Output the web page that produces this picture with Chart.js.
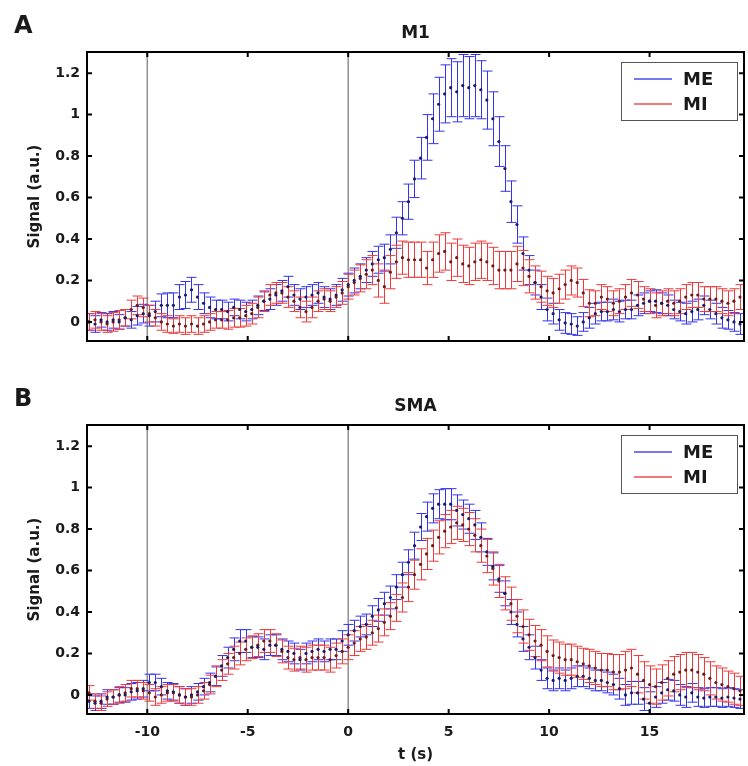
<!DOCTYPE html>
<html><head><meta charset="utf-8">
<script src="https://cdn.jsdelivr.net/npm/chart.js@4.4.1/dist/chart.umd.min.js"></script>
<style>html,body{margin:0;padding:0;background:#fff;}canvas{display:block;}</style>
</head><body>
<canvas id="cA" width="748" height="383"></canvas>
<canvas id="cB" width="748" height="383"></canvas>
<script>
// ---- data (time in s, signal in a.u.) ----
const time = [-12.9,-12.6,-12.3,-12.0,-11.7,-11.4,-11.1,-10.8,-10.5,-10.2,-9.9,-9.6,-9.3,-9.0,-8.7,-8.4,-8.1,-7.8,-7.5,-7.2,-6.9,-6.6,-6.3,-6.0,-5.7,-5.4,-5.1,-4.8,-4.5,-4.2,-3.9,-3.6,-3.3,-3.0,-2.7,-2.4,-2.1,-1.8,-1.5,-1.2,-0.9,-0.6,-0.3,0.0,0.3,0.6,0.9,1.2,1.5,1.8,2.1,2.4,2.7,3.0,3.3,3.6,3.9,4.2,4.5,4.8,5.1,5.4,5.7,6.0,6.3,6.6,6.9,7.2,7.5,7.8,8.1,8.4,8.7,9.0,9.3,9.6,9.9,10.2,10.5,10.8,11.1,11.4,11.7,12.0,12.3,12.6,12.9,13.2,13.5,13.8,14.1,14.4,14.7,15.0,15.3,15.6,15.9,16.2,16.5,16.8,17.1,17.4,17.7,18.0,18.3,18.6,18.9,19.2,19.5];

const m1ME = [0.0,-0.01,0.01,0.0,0.01,0.0,0.02,0.01,0.03,0.04,
  0.03,0.05,0.08,0.08,0.08,0.12,0.13,0.155,0.12,0.09,
  0.07,0.06,0.06,0.05,0.07,0.06,0.05,0.06,0.08,0.1,
  0.11,0.13,0.15,0.17,0.13,0.11,0.12,0.13,0.14,0.12,
  0.11,0.13,0.155,0.18,0.2,0.22,0.25,0.28,0.3,0.31,
  0.35,0.43,0.5,0.58,0.69,0.79,0.89,0.98,1.05,1.1,
  1.13,1.11,1.14,1.13,1.14,1.12,1.07,0.98,0.87,0.74,
  0.58,0.47,0.33,0.25,0.19,0.12,0.06,0.04,0.01,-0.005,
  -0.01,-0.02,0.0,0.02,0.04,0.05,0.05,0.06,0.05,0.06,
  0.06,0.08,0.09,0.1,0.1,0.09,0.08,0.06,0.05,0.04,
  0.05,0.06,0.08,0.06,0.04,0.02,0.01,0.0,-0.01];
const m1MEerr = [0.04,0.04,0.035,0.04,0.04,0.035,0.04,0.04,0.045,0.045,
  0.05,0.05,0.055,0.06,0.06,0.06,0.065,0.06,0.06,0.05,
  0.05,0.045,0.045,0.045,0.04,0.045,0.045,0.045,0.045,0.045,
  0.05,0.05,0.05,0.05,0.05,0.05,0.05,0.05,0.05,0.05,
  0.05,0.05,0.055,0.055,0.06,0.06,0.06,0.06,0.065,0.065,
  0.07,0.075,0.08,0.085,0.09,0.1,0.11,0.12,0.13,0.14,
  0.14,0.145,0.15,0.15,0.15,0.14,0.14,0.13,0.12,0.11,
  0.1,0.09,0.08,0.07,0.06,0.06,0.055,0.05,0.05,0.05,
  0.05,0.045,0.045,0.05,0.05,0.045,0.045,0.05,0.05,0.045,
  0.045,0.05,0.05,0.05,0.055,0.05,0.05,0.045,0.045,0.05,
  0.05,0.05,0.045,0.045,0.05,0.05,0.045,0.045,0.05];
const m1MI = [0.0,0.01,0.0,-0.01,0.0,0.01,0.02,0.06,0.08,0.07,
  0.04,0.02,0.0,-0.01,-0.02,-0.01,-0.02,-0.01,-0.02,-0.01,
  0.0,0.01,0.01,0.01,0.02,0.02,0.03,0.04,0.07,0.1,
  0.13,0.14,0.14,0.12,0.1,0.07,0.05,0.07,0.1,0.11,
  0.1,0.12,0.14,0.17,0.19,0.21,0.23,0.25,0.2,0.17,
  0.24,0.29,0.31,0.3,0.3,0.3,0.26,0.3,0.33,0.34,
  0.29,0.31,0.28,0.27,0.29,0.3,0.29,0.27,0.25,0.25,
  0.25,0.28,0.26,0.22,0.19,0.17,0.15,0.14,0.16,0.18,
  0.2,0.19,0.14,0.09,0.09,0.12,0.11,0.09,0.1,0.12,
  0.14,0.13,0.11,0.1,0.08,0.09,0.1,0.09,0.1,0.12,
  0.13,0.13,0.11,0.11,0.11,0.1,0.09,0.1,0.12];
const m1MIerr = [0.04,0.04,0.04,0.04,0.045,0.045,0.04,0.045,0.045,0.045,
  0.04,0.04,0.04,0.04,0.035,0.04,0.04,0.04,0.04,0.04,
  0.04,0.04,0.04,0.045,0.045,0.045,0.05,0.05,0.05,0.05,
  0.05,0.05,0.05,0.05,0.05,0.05,0.05,0.05,0.05,0.05,
  0.05,0.05,0.055,0.06,0.06,0.065,0.07,0.07,0.08,0.08,
  0.08,0.08,0.08,0.085,0.085,0.085,0.08,0.085,0.09,0.09,
  0.09,0.09,0.09,0.09,0.09,0.09,0.09,0.09,0.09,0.09,
  0.09,0.085,0.085,0.08,0.08,0.075,0.07,0.07,0.07,0.07,
  0.07,0.07,0.065,0.065,0.06,0.06,0.06,0.06,0.06,0.06,
  0.065,0.065,0.06,0.06,0.06,0.06,0.06,0.06,0.06,0.06,
  0.06,0.06,0.06,0.06,0.06,0.06,0.06,0.06,0.06];

const smaME = [-0.03,-0.04,-0.03,-0.01,-0.01,0.0,0.0,0.015,0.02,0.03,
  0.06,0.06,0.04,0.02,0.015,0.0,-0.01,0.0,0.015,0.04,
  0.06,0.09,0.14,0.18,0.22,0.26,0.26,0.23,0.23,0.22,
  0.24,0.24,0.22,0.21,0.2,0.17,0.2,0.21,0.22,0.21,
  0.22,0.22,0.26,0.29,0.31,0.33,0.34,0.38,0.41,0.44,
  0.47,0.52,0.58,0.64,0.72,0.81,0.86,0.9,0.92,0.92,
  0.92,0.89,0.87,0.85,0.82,0.76,0.69,0.62,0.56,0.49,
  0.4,0.34,0.27,0.23,0.18,0.12,0.08,0.07,0.08,0.07,
  0.08,0.09,0.09,0.08,0.07,0.07,0.06,0.05,0.03,0.0,
  0.01,0.01,-0.02,-0.04,-0.01,0.01,0.025,0.02,0.0,-0.01,
  0.01,-0.01,-0.015,-0.01,-0.01,-0.015,-0.01,-0.015,-0.02];
const smaMEerr = [0.035,0.035,0.035,0.035,0.035,0.035,0.035,0.04,0.04,0.04,
  0.04,0.04,0.04,0.04,0.04,0.04,0.04,0.04,0.04,0.04,
  0.045,0.045,0.05,0.05,0.055,0.055,0.055,0.05,0.05,0.05,
  0.05,0.05,0.05,0.05,0.05,0.05,0.05,0.05,0.05,0.05,
  0.05,0.05,0.05,0.05,0.05,0.05,0.05,0.05,0.055,0.055,
  0.055,0.06,0.06,0.06,0.065,0.065,0.07,0.07,0.07,0.075,
  0.075,0.075,0.07,0.07,0.07,0.07,0.065,0.065,0.065,0.06,
  0.06,0.06,0.06,0.06,0.055,0.05,0.05,0.05,0.05,0.05,
  0.05,0.05,0.05,0.05,0.05,0.05,0.05,0.05,0.05,0.05,
  0.055,0.055,0.055,0.055,0.05,0.05,0.05,0.05,0.05,0.05,
  0.045,0.045,0.045,0.045,0.045,0.045,0.045,0.045,0.045];
const smaMI = [0.01,-0.03,-0.04,-0.02,-0.01,0.0,0.01,0.03,0.03,0.02,
  0.01,-0.01,0.0,0.01,0.01,0.0,-0.01,-0.01,0.0,0.02,
  0.05,0.09,0.12,0.15,0.18,0.2,0.22,0.23,0.24,0.26,
  0.26,0.24,0.21,0.18,0.17,0.18,0.17,0.18,0.18,0.18,
  0.17,0.19,0.21,0.23,0.25,0.27,0.28,0.3,0.32,0.35,
  0.38,0.42,0.47,0.52,0.58,0.63,0.68,0.72,0.76,0.79,
  0.81,0.83,0.82,0.8,0.77,0.72,0.67,0.61,0.55,0.49,
  0.44,0.38,0.33,0.29,0.26,0.24,0.21,0.19,0.18,0.17,
  0.17,0.16,0.15,0.14,0.13,0.12,0.12,0.11,0.11,0.12,
  0.13,0.1,0.07,0.05,0.04,0.06,0.08,0.1,0.11,0.12,
  0.12,0.11,0.1,0.08,0.06,0.05,0.04,0.03,0.02];
const smaMIerr = [0.035,0.035,0.035,0.035,0.035,0.04,0.04,0.04,0.04,0.04,
  0.04,0.04,0.04,0.04,0.04,0.04,0.04,0.04,0.04,0.04,
  0.045,0.05,0.05,0.05,0.055,0.055,0.055,0.055,0.055,0.055,
  0.055,0.055,0.055,0.055,0.055,0.055,0.06,0.06,0.06,0.06,
  0.06,0.06,0.06,0.06,0.06,0.06,0.06,0.06,0.065,0.065,
  0.065,0.065,0.07,0.07,0.07,0.075,0.075,0.075,0.08,0.08,
  0.08,0.08,0.08,0.08,0.08,0.08,0.08,0.08,0.08,0.08,
  0.08,0.08,0.08,0.075,0.075,0.075,0.075,0.075,0.075,0.075,
  0.075,0.075,0.075,0.08,0.08,0.08,0.08,0.085,0.085,0.09,
  0.09,0.09,0.09,0.09,0.085,0.085,0.085,0.085,0.085,0.085,
  0.085,0.085,0.08,0.08,0.08,0.08,0.075,0.075,0.07];

const seriesNames = ['ME', 'MI'];
const xTickValues = [-10, -5, 0, 5, 10, 15];
const yTickValues = [0, 0.2, 0.4, 0.6, 0.8, 1, 1.2];
const markerTimes = [-10, 0];

// ---- styling ----
const FONT = '"DejaVu Sans", "Liberation Sans", Arial, sans-serif';
const TXT = '#1a1a1a';
const BAR_COLORS = ['#3434ee', '#ee3a3a'];
const LEGEND_COLORS = ['#4a4ae8', '#e85050'];
const DOT_COLORS = ['#1c1c66', '#6a1c1c'];

const panelPlugin = {
  id: 'panel',
  beforeDatasetsDraw(chart) {
    const {ctx, chartArea: a, scales: {x, y}} = chart;
    ctx.save();
    ctx.beginPath(); ctx.rect(a.left, a.top, a.right - a.left, a.bottom - a.top); ctx.clip();
    ctx.strokeStyle = '#909090'; ctx.lineWidth = 1.5;
    markerTimes.forEach(v => {
      const px = x.getPixelForValue(v);
      ctx.beginPath(); ctx.moveTo(px, a.top); ctx.lineTo(px, a.bottom); ctx.stroke();
    });
    chart.data.datasets.forEach(ds => {
      ctx.strokeStyle = ds.barColor; ctx.lineWidth = 1;
      ds.data.forEach((p, i) => {
        const px = Math.round(x.getPixelForValue(p.x)) + 0.5;
        const yHi = y.getPixelForValue(p.y + ds.err[i]);
        const yLo = y.getPixelForValue(p.y - ds.err[i]);
        ctx.beginPath();
        ctx.moveTo(px, yLo); ctx.lineTo(px, yHi);
        ctx.moveTo(px - 5, yLo); ctx.lineTo(px + 5, yLo);
        ctx.moveTo(px - 5, yHi); ctx.lineTo(px + 5, yHi);
        ctx.stroke();
      });
    });
    ctx.restore();
  },
  afterDraw(chart, args, opts) {
    const {ctx, chartArea: a, scales: {x, y}} = chart;
    ctx.save();
    ctx.strokeStyle = '#000'; ctx.lineWidth = 2;
    ctx.strokeRect(a.left, a.top, a.right - a.left, a.bottom - a.top);
    xTickValues.forEach(v => {
      const px = x.getPixelForValue(v);
      ctx.beginPath();
      ctx.moveTo(px, a.top); ctx.lineTo(px, a.top + 5);
      ctx.moveTo(px, a.bottom); ctx.lineTo(px, a.bottom - 5);
      ctx.stroke();
    });
    yTickValues.forEach(v => {
      const py = y.getPixelForValue(v);
      ctx.beginPath();
      ctx.moveTo(a.left, py); ctx.lineTo(a.left + 5, py);
      ctx.moveTo(a.right, py); ctx.lineTo(a.right - 5, py);
      ctx.stroke();
    });
    ctx.fillStyle = TXT;
    ctx.textBaseline = 'alphabetic';
    ctx.textAlign = 'left';
    ctx.font = 'bold 24px ' + FONT;
    ctx.fillText(opts.letter, 14, a.top - 19);
    ctx.textAlign = 'center';
    ctx.font = 'bold 17px ' + FONT;
    ctx.fillText(opts.title, (a.left + a.right) / 2, a.top - 14);
    // legend
    const bx = a.right - 123, by = a.top + 10, bw = 116, bh = 58;
    ctx.fillStyle = '#fff';
    ctx.fillRect(bx, by, bw, bh);
    ctx.strokeStyle = '#555'; ctx.lineWidth = 1;
    ctx.strokeRect(bx + 0.5, by + 0.5, bw, bh);
    chart.data.datasets.forEach((ds, i) => {
      const ly = by + 17 + i * 25;
      ctx.strokeStyle = LEGEND_COLORS[i]; ctx.lineWidth = 1.5;
      ctx.beginPath(); ctx.moveTo(bx + 13, ly); ctx.lineTo(bx + 51, ly); ctx.stroke();
      ctx.fillStyle = TXT; ctx.textAlign = 'left'; ctx.textBaseline = 'middle';
      ctx.font = 'bold 18px ' + FONT;
      ctx.fillText(ds.label, bx + 62, ly + 1);
    });
    ctx.restore();
  }
};

function makeDatasets(meVals, meErr, miVals, miErr) {
  return [[meVals, meErr], [miVals, miErr]].map(([vals, err], s) => ({
    label: seriesNames[s],
    data: time.map((t, i) => ({x: t, y: vals[i]})),
    err: err,
    barColor: BAR_COLORS[s],
    showLine: false,
    pointRadius: 1.6,
    pointBorderWidth: 0,
    pointBackgroundColor: DOT_COLORS[s],
    borderColor: BAR_COLORS[s]
  }));
}

function makeChart(id, letter, title, datasets, showX) {
  return new Chart(document.getElementById(id), {
    type: 'line',
    data: {datasets},
    plugins: [panelPlugin],
    options: {
      responsive: false,
      animation: false,
      events: [],
      layout: {padding: showX ? {left: 0, right: 1, top: 42, bottom: 0} : {left: 0, right: 1, top: 52, bottom: 42}},
      plugins: {legend: {display: false}, tooltip: {enabled: false}, panel: {letter, title}},
      scales: {
        x: {
          type: 'linear', min: -13, max: 19.7,
          display: showX,
          grid: {display: false, drawTicks: false},
          border: {display: false},
          afterBuildTicks: s => { s.ticks = xTickValues.map(v => ({value: v})); },
          afterFit: s => { if (showX) s.height = 52; },
          ticks: {padding: 10, color: TXT, font: {family: FONT, weight: 'bold', size: 14}, callback: v => String(v)},
          title: {display: showX, text: 't (s)', color: TXT, padding: {top: 0, bottom: 2}, font: {family: FONT, weight: 'bold', size: 15}}
        },
        y: {
          type: 'linear', min: -0.092, max: 1.302,
          grid: {display: false, drawTicks: false},
          border: {display: false},
          afterBuildTicks: s => { s.ticks = yTickValues.map(v => ({value: v})); },
          afterFit: s => { s.width = 87; },
          ticks: {padding: 7, color: TXT, font: {family: FONT, weight: 'bold', size: 14}, callback: v => String(Math.round(v * 10) / 10)},
          title: {display: true, text: 'Signal (a.u.)', color: TXT, padding: {top: 26, bottom: 0}, font: {family: FONT, weight: 'bold', size: 15}}
        }
      }
    }
  });
}

makeChart('cA', 'A', 'M1', makeDatasets(m1ME, m1MEerr, m1MI, m1MIerr), false);
makeChart('cB', 'B', 'SMA', makeDatasets(smaME, smaMEerr, smaMI, smaMIerr), true);
</script>
</body></html>
